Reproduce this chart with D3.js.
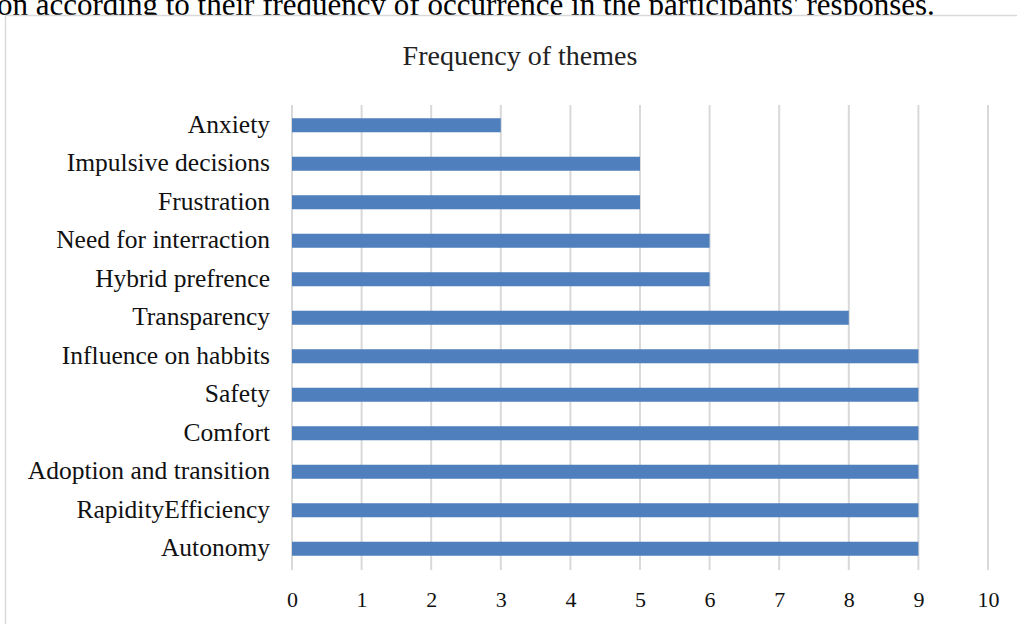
<!DOCTYPE html>
<html><head><meta charset="utf-8">
<script src="https://cdn.jsdelivr.net/npm/d3@7"></script>
<style>
html,body{margin:0;padding:0;background:#fff;overflow:hidden}
</style></head>
<body>
<svg id="c" width="1017" height="624"></svg>
<script>
const categories = ["Anxiety","Impulsive decisions","Frustration","Need for interraction","Hybrid prefrence","Transparency","Influence on habbits","Safety","Comfort","Adoption and transition","RapidityEfficiency","Autonomy"];
const values = [3,5,5,6,6,8,9,9,9,9,9,9];
const xTicks = [0,1,2,3,4,5,6,7,8,9,10];
const title = "Frequency of themes";
const caption = "on according to their frequency of occurrence in the participants' responses.";

const svg = d3.select("#c");
const font = "'Liberation Serif','Times New Roman',serif";

svg.append("text").attr("x",-3).attr("y",15).attr("font-family",font).attr("font-size",31)
  .attr("fill","#000").text(caption);

svg.append("rect").attr("x",5.5).attr("y",15.5).attr("width",1030).attr("height",640)
  .attr("fill","#fff").attr("stroke","#d9d9d9").attr("stroke-width",1.5);

const x = d3.scaleLinear().domain([0,10]).range([292,988]);
const y = d3.scaleBand().domain(categories).range([106,568]).paddingInner(0.636).paddingOuter(0.318);

svg.append("text").attr("x",520).attr("y",65).attr("text-anchor","middle")
  .attr("font-family",font).attr("font-size",28).attr("fill","#222").text(title);

const grid = svg.append("g");
grid.selectAll("line").data(xTicks).join("line")
  .attr("x1",d=>x(d)).attr("x2",d=>x(d)).attr("y1",105).attr("y2",570)
  .attr("stroke","#d9d9d9").attr("stroke-width",2);

svg.append("g").selectAll("rect").data(values).join("rect")
  .attr("x",x(0)).attr("y",(d,i)=>y(categories[i]))
  .attr("width",d=>x(d)-x(0)).attr("height",y.bandwidth())
  .attr("fill","#4f80bd");

const yAxis = svg.append("g").attr("transform",`translate(${x(0)-10},0)`)
  .call(d3.axisLeft(y).tickSize(0).tickPadding(12));
yAxis.select(".domain").remove();
yAxis.selectAll("text").attr("font-family",font).attr("font-size",25.5).attr("fill","#111").attr("dy","0.3em");

const xAxis = svg.append("g").attr("transform",`translate(0,607)`)
  .call(d3.axisBottom(x).tickValues(xTicks).tickSize(0).tickPadding(0).tickFormat(d3.format("d")));
xAxis.select(".domain").remove();
xAxis.selectAll("text").attr("font-family",font).attr("font-size",22).attr("fill","#111").attr("dy",0);
</script>
</body></html>
